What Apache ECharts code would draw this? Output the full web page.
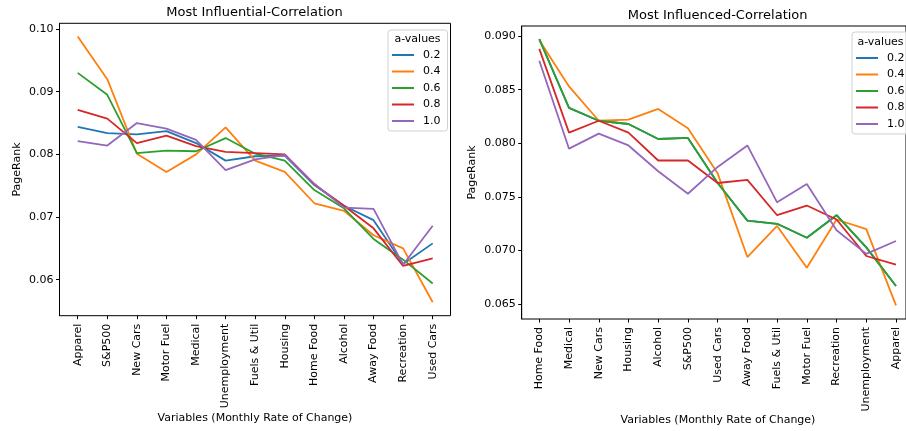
<!DOCTYPE html>
<html>
<head>
<meta charset="utf-8">
<script src="https://cdn.jsdelivr.net/npm/echarts@6/dist/echarts.min.js"></script>
<style>
html,body{margin:0;padding:0;background:#fff;}
#chart{width:906px;height:431px;}
</style>
</head>
<body>
<div id="chart"></div>
<script>
// ---- Data ----
const seriesNames = ['0.2', '0.4', '0.6', '0.8', '1.0'];
const colors = ['#1f77b4', '#ff7f0e', '#2ca02c', '#d62728', '#9467bd'];

const catsLeft = ['Apparel', 'S&P500', 'New Cars', 'Motor Fuel', 'Medical', 'Unemployment', 'Fuels & Util', 'Housing', 'Home Food', 'Alcohol', 'Away Food', 'Recreation', 'Used Cars'];
const left02 = [0.0844, 0.0834, 0.0832, 0.0837, 0.0818, 0.0790, 0.0797, 0.0798, 0.0751, 0.0718, 0.0695, 0.0625, 0.0658];
const left04 = [0.0988, 0.0920, 0.0801, 0.0772, 0.0800, 0.0843, 0.0790, 0.0772, 0.0722, 0.0710, 0.0671, 0.0650, 0.0564];
const left06 = [0.0930, 0.0895, 0.0802, 0.0806, 0.0805, 0.0826, 0.0801, 0.0790, 0.0743, 0.0714, 0.0665, 0.0632, 0.0594];
const left08 = [0.0871, 0.0857, 0.0818, 0.0830, 0.0813, 0.0804, 0.0802, 0.0800, 0.0752, 0.0718, 0.0682, 0.0622, 0.0634];
const left10 = [0.0821, 0.0814, 0.0850, 0.0841, 0.0823, 0.0775, 0.0792, 0.0799, 0.0753, 0.0715, 0.0713, 0.0624, 0.0686];

const catsRight = ['Home Food', 'Medical', 'New Cars', 'Housing', 'Alcohol', 'S&P500', 'Used Cars', 'Away Food', 'Fuels & Util', 'Motor Fuel', 'Recreation', 'Unemployment', 'Apparel'];
const right02 = [0.0897, 0.0833, 0.0821, 0.0818, 0.0804, 0.0805, 0.0763, 0.0728, 0.0725, 0.0712, 0.0733, 0.0703, 0.0667];
const right04 = [0.0896, 0.0853, 0.0821, 0.0822, 0.0832, 0.0814, 0.0772, 0.0694, 0.0723, 0.0684, 0.0729, 0.0720, 0.0649];
const right06 = [0.0897, 0.0833, 0.0821, 0.0818, 0.0804, 0.0805, 0.0763, 0.0728, 0.0725, 0.0712, 0.0733, 0.0703, 0.0667];
const right08 = [0.0888, 0.0810, 0.0821, 0.0810, 0.0784, 0.0784, 0.0763, 0.0766, 0.0733, 0.0742, 0.0729, 0.0695, 0.0687];
const right10 = [0.0877, 0.0795, 0.0809, 0.0798, 0.0774, 0.0753, 0.0778, 0.0798, 0.0745, 0.0762, 0.0719, 0.0697, 0.0709];

const leftTitle = 'Most Influential-Correlation';
const rightTitle = 'Most Influenced-Correlation';
const xName = 'Variables (Monthly Rate of Change)';
const yName = 'PageRank';
const legendTitle = 'a-values';

// ---- Build ----
const FONT = 'DejaVu Sans';
const leftData = [left02, left04, left06, left08, left10];
const rightData = [right02, right04, right06, right08, right10];

const LY = {min: 0.05426, max: 0.10091};
const RY = {min: 0.06363, max: 0.09093};

function frameY(idx, ext, dec) {
  return {
    gridIndex: idx, type: 'value', min: ext.min, max: ext.max,
    axisLine: {show: true, lineStyle: {color: '#000', width: 1}},
    axisTick: {show: true, length: 3.5, lineStyle: {color: '#000'}},
    axisLabel: {show: true, showMinLabel: false, showMaxLabel: false, margin: 6, fontSize: 11, color: '#000', fontFamily: FONT,
      formatter: v => v.toFixed(dec)},
    splitLine: {show: false}
  };
}
function dataX(idx, cats) {
  return {
    gridIndex: idx, type: 'category', data: cats, boundaryGap: false,
    axisLine: {show: false},
    axisTick: {show: true, length: 3.5, lineStyle: {color: '#000'}},
    axisLabel: {interval: 0, rotate: 90, margin: 8, fontSize: 11, color: '#000', fontFamily: FONT},
    splitLine: {show: false}
  };
}
function legendFor(left, top, padTop) {
  return {
    data: seriesNames, orient: 'vertical', left: left, top: top,
    padding: [padTop, 7, 3, 4],
    icon: 'rect', itemWidth: 22, itemHeight: 2, itemGap: 2.5,
    textStyle: {fontSize: 11, lineHeight: 14, color: '#000', fontFamily: FONT, padding: [0, 0, 0, 4]},
    borderColor: '#d0d0d0', borderWidth: 1, borderRadius: 3,
    backgroundColor: 'rgba(255,255,255,0.8)',
    selectedMode: false
  };
}

const series = [];
seriesNames.forEach((n, i) => {
  series.push({name: n, type: 'line', xAxisIndex: 1, yAxisIndex: 1, data: leftData[i],
    symbol: 'none', color: colors[i], lineStyle: {width: 1.8, color: colors[i]}, silent: true});
});
seriesNames.forEach((n, i) => {
  series.push({name: n, type: 'line', xAxisIndex: 3, yAxisIndex: 3, data: rightData[i],
    symbol: 'none', color: colors[i], lineStyle: {width: 1.8, color: colors[i]}, silent: true});
});

function txt(x, y, text, size, rot) {
  return {type: 'text', x: x, y: y, rotation: rot || 0, z: 100,
    style: {text: text, fontSize: size, fontFamily: FONT, fill: '#000',
      align: 'center', verticalAlign: 'middle', textAlign: 'center', textVerticalAlign: 'middle'}};
}

const option = {
  animation: false,
  textStyle: {fontFamily: FONT},
  grid: [
    {left: 59.5, top: 23.3, width: 391, height: 292.4, show: true, borderColor: '#000', borderWidth: 1, backgroundColor: 'transparent'},
    {left: 77.7, top: 23.3, width: 355, height: 292.4},
    {left: 521.7, top: 26, width: 392.3, height: 293, show: true, borderColor: '#000', borderWidth: 1, backgroundColor: 'transparent'},
    {left: 539.3, top: 26, width: 356.7, height: 293}
  ],
  xAxis: [
    {gridIndex: 0, type: 'value', show: false, min: 0, max: 1},
    dataX(1, catsLeft),
    {gridIndex: 2, type: 'value', show: false, min: 0, max: 1},
    dataX(3, catsRight)
  ],
  yAxis: [
    frameY(0, LY, 2),
    {gridIndex: 1, type: 'value', show: false, min: LY.min, max: LY.max},
    frameY(2, RY, 3),
    {gridIndex: 3, type: 'value', show: false, min: RY.min, max: RY.max}
  ],
  legend: [legendFor(388, 30, 18), legendFor(852, 32, 19)],
  series: series,
  graphic: [
    txt(254.5, 12.5, leftTitle, 13),
    txt(717.7, 15.5, rightTitle, 13),
    txt(255, 418, xName, 11),
    txt(718, 420, xName, 11),
    txt(17, 169.5, yName, 11, Math.PI / 2),
    txt(472, 172.5, yName, 11, Math.PI / 2),
    txt(417.5, 39, legendTitle, 11),
    txt(880.5, 42, legendTitle, 11)
  ]
};

const chart = echarts.init(document.getElementById('chart'), null, {renderer: 'canvas'});
chart.setOption(option);
</script>
</body>
</html>
